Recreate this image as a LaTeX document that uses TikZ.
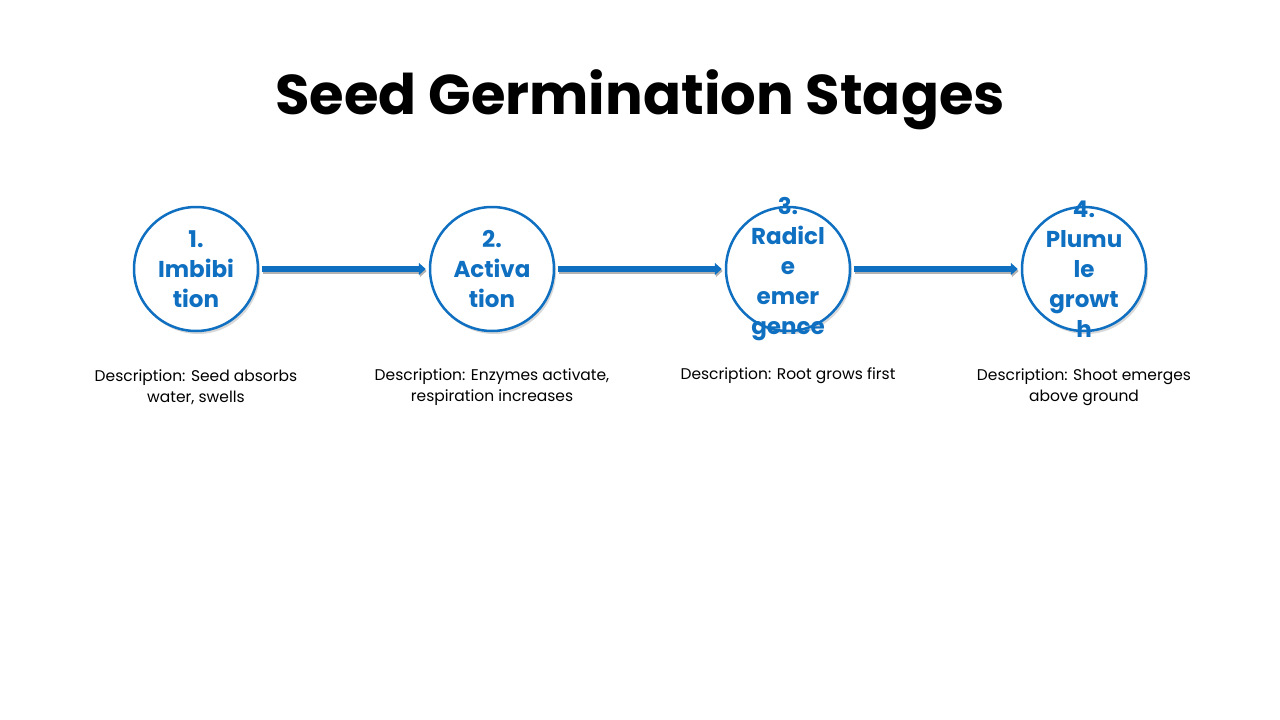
\documentclass[tikz,border=0pt]{standalone}
\usepackage{fontspec}
\setmainfont{Poppins}
\usetikzlibrary{shadows,arrows.meta}
\definecolor{stage}{HTML}{0F6FC0}
\begin{document}
\begin{tikzpicture}[x=1pt,y=-1pt,
  stagec/.style={circle,draw=stage,line width=2.5pt,fill=white,minimum size=124pt,inner sep=0pt,
    drop shadow={shadow xshift=2pt,shadow yshift=-3pt,opacity=0.3}},
  staget/.style={align=center,text=stage,font=\fontsize{23}{30}\selectfont\bfseries},
  desc/.style={align=center,font=\fontsize{15.5}{21}\selectfont,text=black},
  conn/.style={draw=stage,line width=6pt,-{Triangle[length=7pt,width=12pt]},
    preaction={draw=black!30,line width=6pt,transform canvas={xshift=1pt,yshift=-2pt},-{Triangle[length=7pt,width=12pt]}}}]
\useasboundingbox[fill=white] (0,0) rectangle (1280,720);
\node[font=\fontsize{56}{56}\selectfont\bfseries] (title) at (640,100) {Seed Germination Stages};
\node[stagec] (s1) at (196,269) {};
\node[stagec] (s2) at (492,269) {};
\node[stagec] (s3) at (788,269) {};
\node[stagec] (s4) at (1084,269) {};
\node[staget] (t1) at (s1) {1.\\Imbibi\\tion};
\node[staget] (t2) at (s2) {2.\\Activa\\tion};
\node[staget] (t3) at (s3) {3.\\Radicl\\e\\emer\\gence};
\node[staget] (t4) at (s4) {4.\\Plumu\\le\\growt\\h};
\node[desc] (d1) at (196,387) {Description: Seed absorbs\\water, swells};
\node[desc] (d2) at (492,387) {Description: Enzymes activate,\\respiration increases};
\node[desc] (d3) at (788,376) {Description: Root grows first};
\node[desc] (d4) at (1084,387) {Description: Shoot emerges\\above ground};
\draw[conn] ([xshift=3pt]s1.east) -- ([xshift=-3pt]s2.west);
\draw[conn] ([xshift=3pt]s2.east) -- ([xshift=-3pt]s3.west);
\draw[conn] ([xshift=3pt]s3.east) -- ([xshift=-3pt]s4.west);
\end{tikzpicture}
\end{document}
